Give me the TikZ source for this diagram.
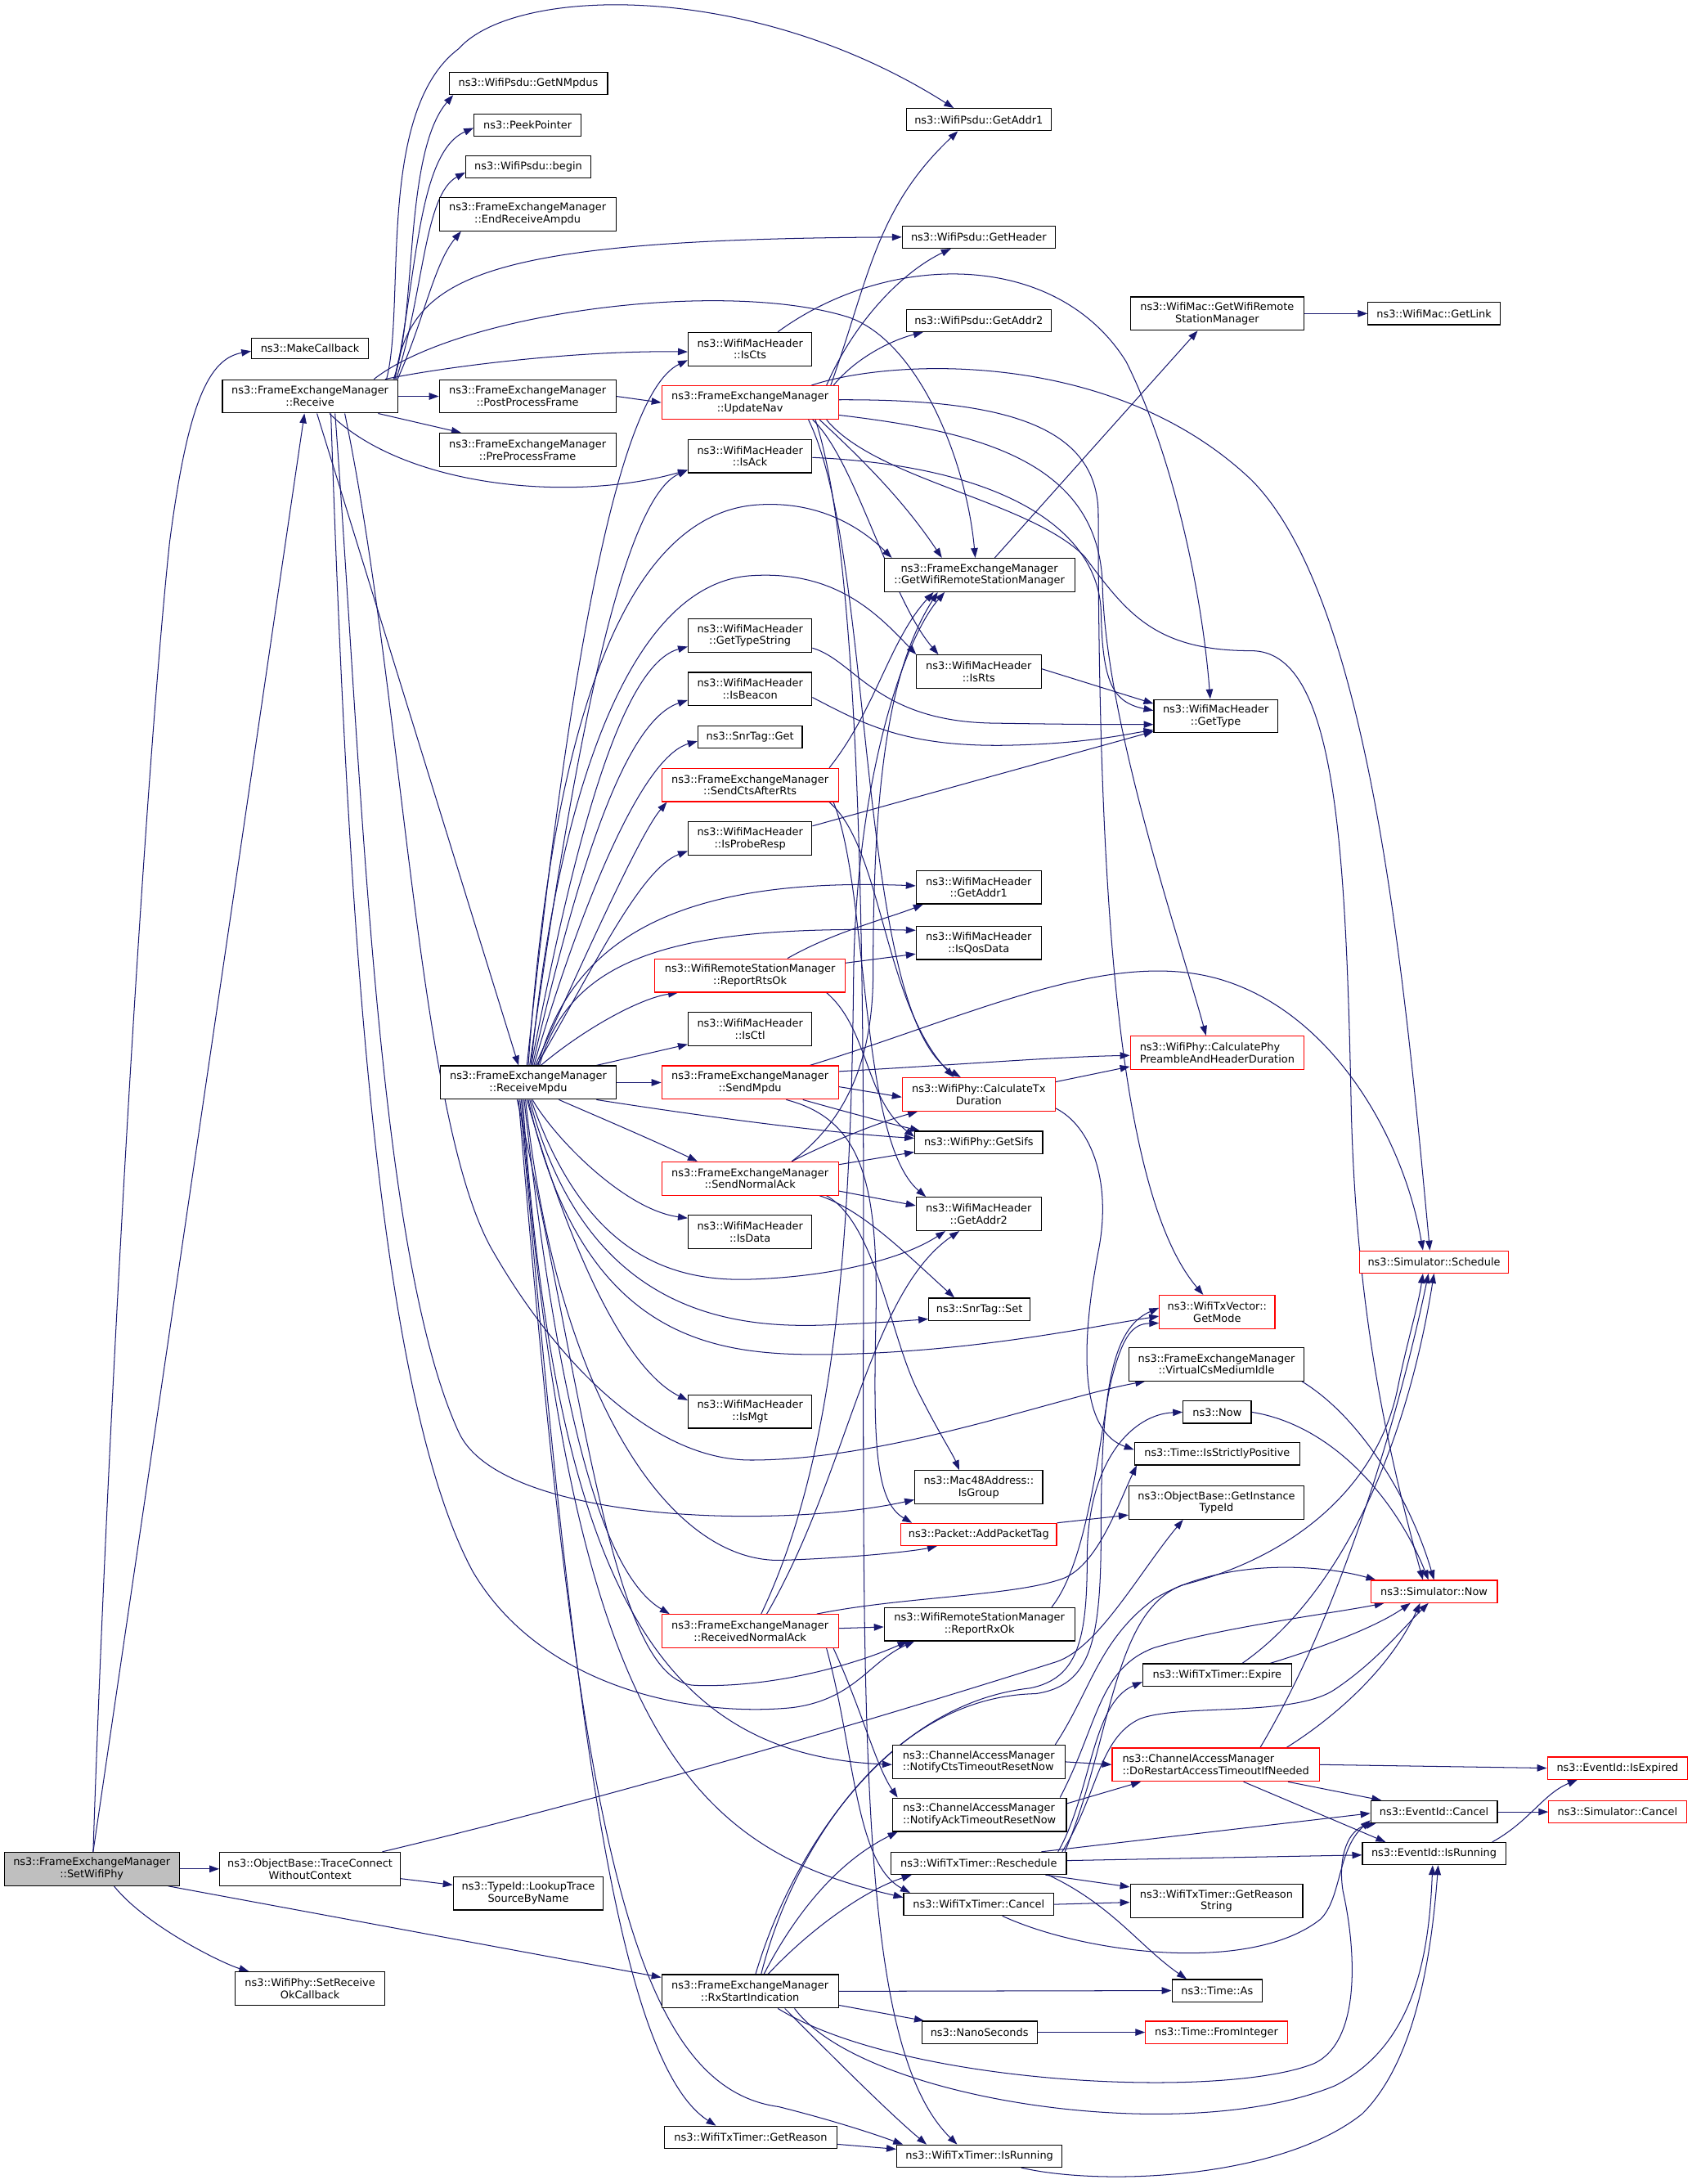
\documentclass[tikz,border=0pt]{standalone}
\usepackage{fontspec}
\setmainfont{DejaVu Sans}
\usetikzlibrary{arrows.meta}
\definecolor{edgec}{HTML}{191970}
\definecolor{gfill}{HTML}{BFBFBF}
\definecolor{rbd}{HTML}{FF0000}
\pgfdeclarelayer{bg}
\pgfsetlayers{bg,main}
\begin{document}
\begin{tikzpicture}[x=1pt,y=-1pt,
 box/.style={draw=black,fill=white,line width=0.7pt,inner sep=0pt,align=center,font=\fontsize{7.6pt}{8.7pt}\selectfont},
 rbox/.style={box,draw=rbd},
 e/.style={draw=edgec,line width=0.6pt,-{Triangle[length=7pt,width=5pt]}}]
\useasboundingbox (0,0) rectangle (1217,1570.6);
% nodes
\node[box,fill=gfill,minimum width=126pt,minimum height=24pt] (SWP) at (66,1344) {ns3::FrameExchangeManager\\::SetWifiPhy};
\node[box,minimum width=84pt,minimum height=15pt] (MC) at (223,250.5) {ns3::MakeCallback};
\node[box,minimum width=126pt,minimum height=24pt] (RCV) at (223,285) {ns3::FrameExchangeManager\\::Receive};
\node[box,minimum width=114pt,minimum height=16pt] (NMP) at (380,60) {ns3::WifiPsdu::GetNMpdus};
\node[box,minimum width=77pt,minimum height=16pt] (PKP) at (379.5,90) {ns3::PeekPointer};
\node[box,minimum width=90pt,minimum height=16pt] (BEG) at (380,120) {ns3::WifiPsdu::begin};
\node[box,minimum width=127pt,minimum height=24pt] (ERA) at (379.5,154) {ns3::FrameExchangeManager\\::EndReceiveAmpdu};
\node[box,minimum width=127pt,minimum height=24pt] (PPF) at (379.5,285) {ns3::FrameExchangeManager\\::PostProcessFrame};
\node[box,minimum width=127pt,minimum height=24pt] (PRF) at (379.5,323.5) {ns3::FrameExchangeManager\\::PreProcessFrame};
\node[box,minimum width=89pt,minimum height=24pt] (ISCTS) at (539.5,251) {ns3::WifiMacHeader\\::IsCts};
\node[rbox,minimum width=127pt,minimum height=24pt] (UNV) at (539.5,289.5) {ns3::FrameExchangeManager\\::UpdateNav};
\node[box,minimum width=89pt,minimum height=24pt] (ISACK) at (539.5,328) {ns3::WifiMacHeader\\::IsAck};
\node[box,minimum width=104pt,minimum height=16pt] (PA1) at (704,86) {ns3::WifiPsdu::GetAddr1};
\node[box,minimum width=110pt,minimum height=16pt] (PHD) at (704,170.5) {ns3::WifiPsdu::GetHeader};
\node[box,minimum width=104pt,minimum height=16pt] (PA2) at (704,230.5) {ns3::WifiPsdu::GetAddr2};
\node[box,minimum width=125pt,minimum height=24pt] (MGW) at (875.5,225.5) {ns3::WifiMac::GetWifiRemote\\StationManager};
\node[box,minimum width=95pt,minimum height=16pt] (MGL) at (1031.5,225.5) {ns3::WifiMac::GetLink};
\node[box,minimum width=137pt,minimum height=24pt] (FGW) at (704.5,413.5) {ns3::FrameExchangeManager\\::GetWifiRemoteStationManager};
\node[box,minimum width=89pt,minimum height=24pt] (GTS) at (539.5,457) {ns3::WifiMacHeader\\::GetTypeString};
\node[box,minimum width=90pt,minimum height=24pt] (ISRTS) at (704,483) {ns3::WifiMacHeader\\::IsRts};
\node[box,minimum width=89pt,minimum height=24pt] (ISB) at (539.5,495.5) {ns3::WifiMacHeader\\::IsBeacon};
\node[box,minimum width=89pt,minimum height=24pt] (GTY) at (874.5,515) {ns3::WifiMacHeader\\::GetType};
\node[box,minimum width=75pt,minimum height=16pt] (SNG) at (539.5,530) {ns3::SnrTag::Get};
\node[rbox,minimum width=127pt,minimum height=24pt] (SCR) at (539.5,564.5) {ns3::FrameExchangeManager\\::SendCtsAfterRts};
\node[box,minimum width=89pt,minimum height=24pt] (IPR) at (539.5,603) {ns3::WifiMacHeader\\::IsProbeResp};
\node[box,minimum width=90pt,minimum height=24pt] (HA1) at (704,638) {ns3::WifiMacHeader\\::GetAddr1};
\node[box,minimum width=90pt,minimum height=24pt] (IQD) at (704,678) {ns3::WifiMacHeader\\::IsQosData};
\node[rbox,minimum width=137pt,minimum height=24pt] (RRO) at (539.5,701.5) {ns3::WifiRemoteStationManager\\::ReportRtsOk};
\node[box,minimum width=89pt,minimum height=24pt] (ICTL) at (539.5,740) {ns3::WifiMacHeader\\::IsCtl};
\node[box,minimum width=126pt,minimum height=24pt] (RM) at (380,778.5) {ns3::FrameExchangeManager\\::ReceiveMpdu};
\node[rbox,minimum width=127pt,minimum height=24pt] (SM) at (539.5,778.5) {ns3::FrameExchangeManager\\::SendMpdu};
\node[rbox,align=left,minimum width=125pt,minimum height=24pt] (CPP) at (875.5,757) {ns3::WifiPhy::CalculatePhy\\PreambleAndHeaderDuration};
\node[rbox,minimum width=110pt,minimum height=24pt] (CTD) at (704,787) {ns3::WifiPhy::CalculateTx\\Duration};
\node[box,minimum width=92pt,minimum height=16pt] (GSF) at (704,821.5) {ns3::WifiPhy::GetSifs};
\node[rbox,minimum width=127pt,minimum height=24pt] (SNA) at (539.5,847.5) {ns3::FrameExchangeManager\\::SendNormalAck};
\node[box,minimum width=90pt,minimum height=24pt] (HA2) at (704,873) {ns3::WifiMacHeader\\::GetAddr2};
\node[box,minimum width=89pt,minimum height=24pt] (IDT) at (539.5,886) {ns3::WifiMacHeader\\::IsData};
\node[rbox,minimum width=107pt,minimum height=16pt] (SCH) at (1031.5,907.5) {ns3::Simulator::Schedule};
\node[box,minimum width=73pt,minimum height=16pt] (SNS) at (704.5,941.5) {ns3::SnrTag::Set};
\node[rbox,minimum width=83pt,minimum height=24pt] (GMD) at (875.5,943.5) {ns3::WifiTxVector::\\GetMode};
\node[box,minimum width=126pt,minimum height=24pt] (VCI) at (875,981) {ns3::FrameExchangeManager\\::VirtualCsMediumIdle};
\node[box,minimum width=49pt,minimum height=16pt] (NOW) at (875.5,1015.5) {ns3::Now};
\node[box,minimum width=89pt,minimum height=24pt] (IMG) at (539.5,1015) {ns3::WifiMacHeader\\::IsMgt};
\node[box,minimum width=119pt,minimum height=16pt] (ISP) at (875.5,1045.5) {ns3::Time::IsStrictlyPositive};
\node[box,minimum width=92pt,minimum height=24pt] (IGR) at (704,1069.5) {ns3::Mac48Address::\\IsGroup};
\node[box,minimum width=126pt,minimum height=24pt] (GIT) at (875,1080.5) {ns3::ObjectBase::GetInstance\\TypeId};
\node[rbox,minimum width=112pt,minimum height=16pt] (APT) at (704,1103.5) {ns3::Packet::AddPacketTag};
\node[rbox,minimum width=91pt,minimum height=16pt] (SNW) at (1031.5,1144.5) {ns3::Simulator::Now};
\node[rbox,minimum width=127pt,minimum height=24pt] (RNA) at (539.5,1173) {ns3::FrameExchangeManager\\::ReceivedNormalAck};
\node[box,minimum width=137pt,minimum height=24pt] (RRX) at (704.5,1168) {ns3::WifiRemoteStationManager\\::ReportRxOk};
\node[box,minimum width=107pt,minimum height=16pt] (EXP) at (875.5,1204.5) {ns3::WifiTxTimer::Expire};
\node[box,align=left,minimum width=124pt,minimum height=24pt] (NCT) at (704,1267) {ns3::ChannelAccessManager\\::NotifyCtsTimeoutResetNow};
\node[rbox,align=left,minimum width=149pt,minimum height=24pt] (DRA) at (874.5,1269) {ns3::ChannelAccessManager\\::DoRestartAccessTimeoutIfNeeded};
\node[rbox,minimum width=101pt,minimum height=16pt] (IEX) at (1163.5,1271.5) {ns3::EventId::IsExpired};
\node[box,align=left,minimum width=125pt,minimum height=24pt] (NAK) at (704.5,1305) {ns3::ChannelAccessManager\\::NotifyAckTimeoutResetNow};
\node[box,minimum width=91pt,minimum height=16pt] (ECN) at (1031.5,1303) {ns3::EventId::Cancel};
\node[rbox,minimum width=99pt,minimum height=16pt] (SCN) at (1163.5,1303) {ns3::Simulator::Cancel};
\node[box,minimum width=126pt,minimum height=16pt] (RSC) at (704,1340) {ns3::WifiTxTimer::Reschedule};
\node[box,minimum width=103pt,minimum height=16pt] (EIR) at (1031.5,1333) {ns3::EventId::IsRunning};
\node[box,minimum width=108pt,minimum height=16pt] (TCN) at (704,1369.5) {ns3::WifiTxTimer::Cancel};
\node[box,minimum width=124pt,minimum height=24pt] (GRS) at (875,1367) {ns3::WifiTxTimer::GetReason\\String};
\node[box,minimum width=130pt,minimum height=24pt] (TRC) at (223,1344) {ns3::ObjectBase::TraceConnect\\WithoutContext};
\node[box,minimum width=108pt,minimum height=24pt] (LTS) at (380,1361.5) {ns3::TypeId::LookupTrace\\SourceByName};
\node[box,minimum width=108pt,minimum height=24pt] (SRO) at (223,1430) {ns3::WifiPhy::SetReceive\\OkCallback};
\node[box,minimum width=127pt,minimum height=24pt] (RXS) at (539.5,1432) {ns3::FrameExchangeManager\\::RxStartIndication};
\node[box,minimum width=65pt,minimum height=16pt] (TAS) at (875.5,1431.5) {ns3::Time::As};
\node[box,minimum width=83pt,minimum height=16pt] (NNS) at (704.5,1461.5) {ns3::NanoSeconds};
\node[rbox,minimum width=102pt,minimum height=16pt] (TFI) at (875,1461.5) {ns3::Time::FromInteger};
\node[box,minimum width=124pt,minimum height=16pt] (GRN) at (540,1537) {ns3::WifiTxTimer::GetReason};
\node[box,minimum width=119pt,minimum height=16pt] (TIR) at (704.5,1550.5) {ns3::WifiTxTimer::IsRunning};

\begin{pgfonlayer}{bg}
\fill[white] (0,0) rectangle (1217,1570.6);
% SetWifiPhy
\draw[e] ([xshift=1pt]SWP.north) .. controls (78,1000) and (105,550) .. (122,390) .. controls (135,290) and (150,258) .. ([yshift=-2pt]MC.west);
\draw[e] ([xshift=1pt]SWP.north) -- ([xshift=-4pt]RCV.south);
\draw[e] (SWP.east) -- (TRC.west);
\draw[e] ([xshift=16pt]SWP.south) .. controls (105,1385) and (160,1412) .. ([xshift=-44pt]SRO.north);
\draw[e] ([xshift=55pt]SWP.south) -- ([yshift=10pt]RXS.west);
\draw[e] ([yshift=-7pt]TRC.east) -- ([yshift=6pt]LTS.west);
\draw[e] ([xshift=52pt]TRC.north) .. controls (450,1290) and (650,1230) .. (760,1195) .. controls (790,1185) and (820,1130) .. ([xshift=-24pt]GIT.south);
% Receive
\draw[e] ([xshift=60pt]RCV.north) .. controls (300,230) and (290,110) .. ([xshift=-54pt]NMP.south);
\draw[e] ([xshift=61pt]RCV.north) .. controls (300,200) and (300,110) .. ([yshift=-2pt]PKP.west);
\draw[e] ([xshift=62pt]RCV.north) .. controls (305,210) and (305,140) .. ([yshift=-4pt]BEG.west);
\draw[e] ([xshift=63pt]RCV.north) .. controls (305,230) and (312,190) .. ([xshift=16pt]ERA.south west);
\draw[e] ([xshift=55pt]RCV.north) .. controls (292,220) and (270,80) .. (330,35) .. controls (370,-10) and (540,-15) .. ([xshift=-18pt]PA1.north);
\draw[e] ([xshift=61pt]RCV.north) .. controls (295,200) and (340,172) .. (PHD.west);
\draw[e] ([xshift=54pt]RCV.north) .. controls (330,262) and (420,252) .. ([yshift=-2pt]ISCTS.west);
\draw[e] ([xshift=46pt]RCV.north) .. controls (330,225) and (520,200) .. (610,228) .. controls (660,245) and (695,330) .. ([xshift=-3pt]FGW.north);
\draw[e] (RCV.east) -- (PPF.west);
\draw[e] ([xshift=49pt]RCV.south) -- ([xshift=16pt]PRF.north west);
\draw[e] ([xshift=14pt]RCV.south) .. controls (290,350) and (410,362) .. ([yshift=-10pt]ISACK.west);
\draw[e] ([xshift=5pt]RCV.south) -- ([xshift=-7pt]RM.north);
\draw[e] ([xshift=25pt]RCV.south) .. controls (290,500) and (300,800) .. (353,897) .. controls (400,980) and (470,1050) .. (540,1050) .. controls (640,1050) and (760,1005) .. ([xshift=12pt]VCI.south west);
\draw[e] ([xshift=18pt]RCV.south) .. controls (260,550) and (270,900) .. (330,1030) .. controls (360,1095) and (560,1100) .. ([yshift=-9pt]IGR.west);
\draw[e] ([xshift=15pt]RCV.south) .. controls (250,650) and (270,1000) .. (340,1130) .. controls (390,1215) and (500,1235) .. (570,1228) .. controls (615,1222) and (625,1195) .. ([xshift=22pt]RRX.south west);
% UpdateNav
\draw[e] (PPF.east) -- (UNV.west);
\draw[e] ([xshift=58pt]UNV.north) .. controls (625,200) and (630,150) .. ([xshift=-15pt]PA1.south);
\draw[e] ([xshift=55pt]UNV.north) .. controls (615,230) and (650,195) .. ([xshift=-20pt]PHD.south);
\draw[e] ([xshift=60pt]UNV.north) .. controls (615,258) and (640,245) .. ([xshift=-40pt]PA2.south);
\draw[e] ([xshift=50pt]UNV.south) .. controls (620,330) and (650,360) .. ([xshift=-27pt]FGW.north);
\draw[e] ([xshift=45pt]UNV.south) .. controls (615,330) and (640,430) .. ([xshift=-29pt]ISRTS.north);
\draw[e] ([yshift=2pt]UNV.east) .. controls (720,287) and (790,305) .. (790,370) .. controls (790,650) and (805,860) .. ([xshift=-10pt]GMD.north);
\draw[e] ([xshift=44pt]UNV.north) .. controls (640,258) and (800,250) .. (900,345) .. controls (985,430) and (1010,700) .. ([xshift=-3pt]SCH.north);
\draw[e] ([yshift=-9pt]UNV.east) .. controls (700,310) and (790,330) .. (793,420) .. controls (795,520) and (850,680) .. ([xshift=-8pt]CPP.north);
\draw[e] ([xshift=55pt]UNV.south) .. controls (630,345) and (740,360) .. (780,400) .. controls (810,440) and (830,468) .. (900,468) .. controls (960,468) and (968,600) .. (972,800) .. controls (976,950) and (1000,1050) .. ([xshift=-8pt]SNW.north);
\draw[e] ([xshift=42pt]UNV.south) .. controls (630,400) and (615,730) .. ([xshift=-13pt]CTD.north);
\draw[e] ([xshift=47pt]UNV.south) .. controls (625,420) and (621,800) .. (621,1000) .. controls (621,1300) and (625,1480) .. ([xshift=-16pt]TIR.north);
% GetType callers
\draw[e] ([yshift=-1pt]ISACK.east) .. controls (720,335) and (790,380) .. (792,440) .. controls (793,490) and (800,505) .. ([yshift=4pt]GTY.west);
\draw[e] ([xshift=20pt]ISCTS.north) .. controls (640,180) and (760,180) .. (810,260) .. controls (845,330) and (865,430) .. ([xshift=-4pt]GTY.north);
\draw[e] ([yshift=2pt]ISRTS.east) -- ([yshift=9pt]GTY.west);
\draw[e] ([yshift=-9pt]GTS.east) .. controls (615,475) and (630,518) .. (712,520) .. controls (770,521) and (800,521) .. ([yshift=-6pt]GTY.west);
\draw[e] ([yshift=-6pt]ISB.east) .. controls (620,520) and (650,537) .. (723,536) .. controls (780,535) and (810,528) .. ([yshift=-10pt]GTY.west);
\draw[e] ([yshift=9pt]IPR.east) -- ([yshift=-11pt]GTY.west);
\draw[e] ([xshift=11pt]FGW.north) -- ([xshift=-14pt]MGW.south);
\draw[e] (MGW.east) -- (MGL.west);
% ReceiveMpdu upward
\draw[e] ([xshift=-1pt]RM.north) .. controls (405,520) and (440,285) .. ([yshift=-8pt]ISCTS.west);
\draw[e] ([xshift=1pt]RM.north) .. controls (410,560) and (445,360) .. ([yshift=-10pt]ISACK.west);
\draw[e] ([xshift=2pt]RM.north) .. controls (405,650) and (440,480) .. ([yshift=-8pt]GTS.west);
\draw[e] ([xshift=3pt]RM.north) .. controls (410,650) and (445,520) .. ([yshift=-8pt]ISB.west);
\draw[e] ([xshift=4pt]RM.north) .. controls (415,660) and (460,545) .. ([yshift=-3pt]SNG.west);
\draw[e] ([xshift=5pt]RM.north) .. controls (420,690) and (460,600) .. ([xshift=4pt]SCR.south west);
\draw[e] ([xshift=6pt]RM.north) .. controls (425,700) and (460,625) .. ([yshift=-9pt]IPR.west);
\draw[e] ([xshift=7pt]RM.north) .. controls (410,680) and (480,630) .. ([yshift=1pt]HA1.west);
\draw[e] ([xshift=8pt]RM.north) .. controls (410,690) and (480,665) .. ([yshift=9pt]IQD.west);
\draw[e] ([xshift=9pt]RM.north) .. controls (420,740) and (460,718) .. ([xshift=17pt]RRO.south west);
\draw[e] ([xshift=49pt]RM.north) -- ([yshift=-11pt]ICTL.west);
\draw[e] (RM.north) .. controls (395,550) and (440,370) .. (545,363) .. controls (590,360) and (620,380) .. ([xshift=-63pt]FGW.north);
\draw[e] ([xshift=2pt]RM.north) .. controls (400,580) and (450,420) .. (540,414) .. controls (600,410) and (630,440) .. ([xshift=-45pt]ISRTS.north);
% ReceiveMpdu right / downward
\draw[e] (RM.east) -- (SM.west);
\draw[e] ([xshift=49pt]RM.south) .. controls (520,805) and (600,815) .. ([yshift=3pt]GSF.west);
\draw[e] ([xshift=22pt]RM.south) .. controls (430,803) and (470,820) .. ([xshift=26pt]SNA.north west);
\draw[e] ([xshift=3pt]RM.south) .. controls (400,820) and (450,870) .. ([yshift=10pt]IDT.west);
\draw[e] ([xshift=2pt]RM.south) .. controls (420,900) and (480,922) .. (540,920) .. controls (600,918) and (650,905) .. ([xshift=-24pt]HA2.south);
\draw[e] ([xshift=1pt]RM.south) .. controls (420,940) and (520,955) .. (590,953) .. controls (620,952) and (650,950) .. ([yshift=-7pt]SNS.west);
\draw[e] (RM.south) .. controls (420,970) and (520,975) .. (600,974) .. controls (700,972) and (780,955) .. ([yshift=-3pt]GMD.west);
\draw[e] ([xshift=-1pt]RM.south) .. controls (410,900) and (450,985) .. ([yshift=8pt]IMG.west);
\draw[e] ([xshift=-2pt]RM.south) .. controls (400,1000) and (480,1125) .. (563,1122) .. controls (620,1120) and (660,1115) .. ([xshift=-30pt]APT.south);
\draw[e] ([xshift=-3pt]RM.south) .. controls (400,1000) and (430,1130) .. ([xshift=6pt]RNA.north west);
\draw[e] ([xshift=-8pt]RM.south) .. controls (420,1000) and (440,1210) .. (500,1212) .. controls (560,1214) and (620,1195) .. ([xshift=17pt]RRX.south west);
\draw[e] ([xshift=-4pt]RM.south) .. controls (400,1150) and (480,1262) .. ([yshift=-2pt]NCT.west);
\draw[e] ([xshift=-5pt]RM.south) .. controls (410,1250) and (500,1330) .. ([yshift=5pt]TCN.west);
\draw[e] ([xshift=-6pt]RM.south) .. controls (410,1200) and (440,1480) .. ([xshift=-25pt]GRN.north);
\draw[e] ([xshift=-7pt]RM.south) .. controls (415,1300) and (450,1500) .. (560,1515) .. controls (600,1525) and (630,1535) .. ([xshift=-55pt]TIR.north);
% SendMpdu
\draw[e] ([yshift=8pt]SM.east) .. controls (700,765) and (760,760) .. ([yshift=-2pt]CPP.west);
\draw[e] ([yshift=-3pt]SM.east) -- ([yshift=-2pt]CTD.west);
\draw[e] ([xshift=38pt]SM.south) .. controls (610,800) and (640,808) .. ([xshift=4pt]GSF.north west);
\draw[e] ([xshift=43pt]SM.north) .. controls (700,730) and (800,680) .. (880,705) .. controls (960,730) and (1010,820) .. ([xshift=-8pt]SCH.north);
\draw[e] ([xshift=26pt]SM.south) .. controls (620,805) and (632,850) .. (630,950) .. controls (628,1040) and (630,1080) .. ([xshift=-48pt]APT.north);
% SendNormalAck
\draw[e] ([xshift=30pt]SNA.north) .. controls (610,805) and (628,760) .. (628,700) .. controls (628,560) and (640,480) .. ([xshift=-30pt]FGW.south);
\draw[e] ([xshift=30pt]SNA.north) .. controls (610,815) and (640,805) .. ([xshift=-44pt]CTD.south);
\draw[e] ([yshift=10pt]SNA.east) -- ([yshift=-7pt]GSF.west);
\draw[e] ([yshift=-9pt]SNA.east) -- ([yshift=6pt]HA2.west);
\draw[e] ([xshift=50pt]SNA.south) .. controls (620,870) and (650,900) .. ([xshift=-18pt]SNS.north);
\draw[e] ([xshift=55pt]SNA.south) .. controls (630,880) and (640,960) .. (660,1000) .. controls (675,1030) and (685,1045) .. ([xshift=-14pt]IGR.north);
% SendCtsAfterRts
\draw[e] ([xshift=57pt]SCR.north) .. controls (630,510) and (640,460) .. ([xshift=-33pt]FGW.south);
\draw[e] ([xshift=57pt]SCR.south) .. controls (635,610) and (635,720) .. ([xshift=-18pt]CTD.north);
\draw[e] ([xshift=60pt]SCR.south) .. controls (625,640) and (618,820) .. ([xshift=-38pt]HA2.north);
% ReportRtsOk
\draw[e] ([xshift=27pt]RRO.north) .. controls (600,670) and (640,660) .. ([xshift=-40pt]HA1.south);
\draw[e] ([yshift=9pt]RRO.east) -- ([yshift=-8pt]IQD.west);
\draw[e] ([xshift=55pt]RRO.south) .. controls (625,740) and (622,790) .. ([yshift=4pt]GSF.west);
% ReceivedNormalAck
\draw[e] ([xshift=8pt]RNA.north) .. controls (600,1050) and (612,900) .. (614,700) .. controls (616,560) and (650,460) .. ([xshift=-25pt]FGW.south);
\draw[e] ([xshift=12pt]RNA.north) .. controls (610,1060) and (625,930) .. ([xshift=-14pt]HA2.south);
\draw[e] ([yshift=2pt]RNA.east) -- ([yshift=-2pt]RRX.west);
\draw[e] ([xshift=48pt]RNA.north) .. controls (650,1148) and (730,1148) .. (765,1135) .. controls (790,1125) and (805,1080) .. ([xshift=2pt]ISP.south west);
\draw[e] ([xshift=60pt]RNA.south) .. controls (620,1230) and (630,1270) .. ([xshift=4pt]NAK.north west);
\draw[e] ([xshift=55pt]RNA.south) .. controls (615,1260) and (615,1340) .. ([xshift=5pt]TCN.north west);
% ReportRxOk
\draw[e] ([xshift=52pt]RRX.north) .. controls (785,1120) and (792,1020) .. (800,990) .. controls (808,960) and (815,952) .. ([yshift=-8pt]GMD.west);
% RxStartIndication
\draw[e] (RXS.east) -- (TAS.west);
\draw[e] ([yshift=-10pt]RXS.east) -- ([xshift=2pt]NNS.north west);
\draw[e] ([xshift=4pt]RXS.north) .. controls (570,1330) and (640,1225) .. (741,1214) .. controls (775,1207) and (782,1180) .. (782,1120) .. controls (782,1050) and (815,1017) .. (NOW.west);
\draw[e] ([xshift=8pt]RXS.north) .. controls (570,1330) and (640,1220) .. (745,1218) .. controls (785,1212) and (792,1180) .. (792,1100) .. controls (792,1000) and (800,955) .. ([yshift=3pt]GMD.west);
\draw[e] ([xshift=10pt]RXS.north) .. controls (570,1380) and (600,1340) .. ([xshift=4pt]NAK.south west);
\draw[e] ([xshift=13pt]RXS.north) .. controls (580,1390) and (620,1360) .. ([xshift=15pt]RSC.south west);
\draw[e] ([xshift=20pt]RXS.south) .. controls (650,1500) and (880,1510) .. (945,1484) .. controls (980,1468) and (975,1400) .. (966,1360) .. controls (962,1335) and (970,1315) .. ([xshift=4pt]ECN.south west);
\draw[e] ([xshift=32pt]RXS.south) .. controls (620,1510) and (850,1545) .. (960,1500) .. controls (1020,1470) and (1028,1400) .. ([xshift=-1pt]EIR.south);
\draw[e] ([xshift=25pt]RXS.south) .. controls (600,1480) and (640,1520) .. ([xshift=-38pt]TIR.north);
\draw[e] ([yshift=-5pt]GRN.east) -- ([yshift=5pt]TIR.west);
\draw[e] ([xshift=30pt]TIR.south) .. controls (790,1572) and (920,1568) .. (980,1520) .. controls (1020,1480) and (1030,1400) .. ([xshift=3pt]EIR.south);
% Reschedule
\draw[e] ([xshift=57pt]RSC.north) .. controls (785,1290) and (785,1225) .. ([yshift=-5pt]EXP.west);
\draw[e] ([xshift=45pt]RSC.north) -- ([yshift=-1pt]ECN.west);
\draw[e] ([yshift=2pt]RSC.east) -- ([yshift=-1pt]EIR.west);
\draw[e] ([xshift=48pt]RSC.south) -- ([yshift=10pt]GRS.west);
\draw[e] ([xshift=50pt]RSC.south) .. controls (800,1370) and (820,1400) .. ([xshift=-22pt]TAS.north);
\draw[e] ([xshift=62pt]RSC.north) .. controls (800,1250) and (800,1160) .. (850,1140) .. controls (930,1120) and (990,1070) .. (1005,1000) .. controls (1012,965) and (1020,940) .. ([xshift=-8pt]SCH.south);
\draw[e] ([xshift=60pt]RSC.north) .. controls (790,1290) and (790,1250) .. (820,1236) .. controls (850,1225) and (930,1235) .. (960,1215) .. controls (990,1195) and (1010,1170) .. ([xshift=-4pt]SNW.south);
% ChannelAccessManager
\draw[e] (NCT.east) -- (DRA.west);
\draw[e] ([yshift=8pt]NAK.east) -- ([xshift=21pt]DRA.south west);
\draw[e] ([xshift=55pt]NCT.north) .. controls (785,1215) and (790,1180) .. (830,1150) .. controls (880,1120) and (950,1125) .. ([xshift=4pt]SNW.north west);
\draw[e] ([xshift=58pt]NAK.north) .. controls (790,1240) and (790,1200) .. (830,1185) .. controls (880,1170) and (960,1160) .. ([xshift=10pt]SNW.south west);
\draw[e] (DRA.east) -- (IEX.west);
\draw[e] ([xshift=52pt]DRA.south) -- ([xshift=8pt]ECN.north west);
\draw[e] ([xshift=20pt]DRA.south) -- ([xshift=17pt]EIR.north west);
\draw[e] ([xshift=51pt]DRA.north) .. controls (960,1235) and (1000,1200) .. ([xshift=-10pt]SNW.south);
\draw[e] ([xshift=32pt]DRA.north) .. controls (970,1150) and (1010,1000) .. ([xshift=-4pt]SCH.south);
\draw[e] (ECN.east) -- (SCN.west);
\draw[e] ([xshift=-10pt]EIR.north east) .. controls (1100,1310) and (1110,1290) .. ([xshift=22pt]IEX.south west);
% WifiTxTimer::Cancel
\draw[e] (TCN.east) -- ([yshift=-1pt]GRS.west);
\draw[e] ([xshift=17pt]TCN.south) .. controls (780,1405) and (900,1420) .. (950,1380) .. controls (965,1365) and (962,1330) .. ([yshift=-6pt]ECN.west);
% misc
\draw[e] (NNS.east) -- (TFI.west);
\draw[e] ([xshift=-2pt]VCI.south east) .. controls (980,1020) and (1015,1080) .. (SNW.north);
\draw[e] (NOW.east) .. controls (960,1025) and (1005,1080) .. ([xshift=-4pt]SNW.north);
\draw[e] ([xshift=18pt]EXP.north) .. controls (960,1150) and (1010,1050) .. (SCH.south);
\draw[e] ([xshift=38pt]EXP.north) .. controls (950,1185) and (990,1170) .. ([xshift=-17pt]SNW.south);
\draw[e] ([yshift=9pt]CTD.east) -- ([yshift=-10pt]CPP.west);
\draw[e] ([yshift=-10pt]CTD.east) .. controls (785,810) and (800,850) .. (790,900) .. controls (775,980) and (780,1030) .. ([yshift=3pt]ISP.west);
\draw[e] (APT.north east) -- ([yshift=-9pt]GIT.west);
\end{pgfonlayer}
\end{tikzpicture}
\end{document}
